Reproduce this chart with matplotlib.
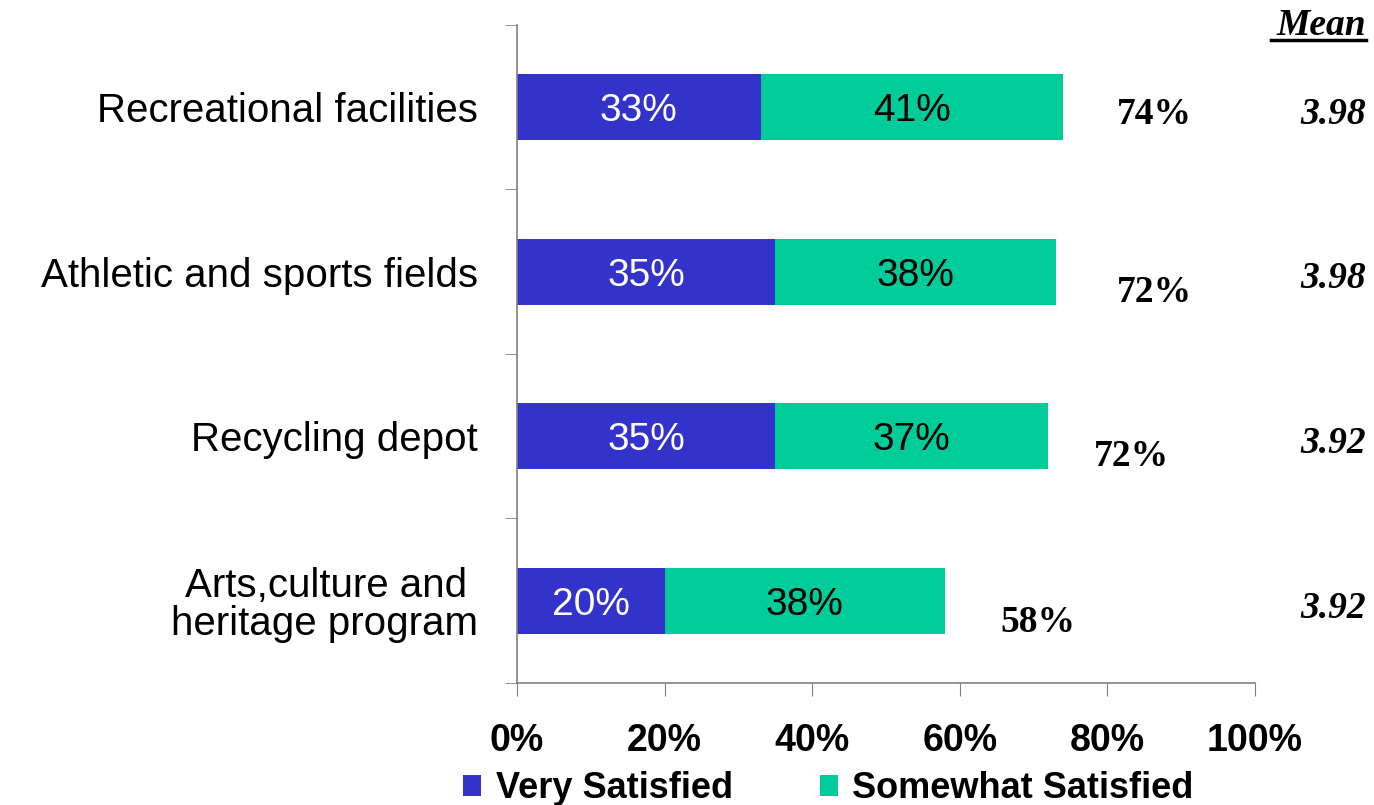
import numpy as np
import matplotlib
matplotlib.use("Agg")
import matplotlib.pyplot as plt
from matplotlib import font_manager

categories = ["Recreational facilities", "Athletic and sports fields",
              "Recycling depot", "Arts,culture and \nheritage program"]
very_satisfied = [33, 35, 35, 20]
somewhat_satisfied = [41, 38, 37, 38]
totals = ["74%", "72%", "72%", "58%"]
means = ["3.98", "3.98", "3.92", "3.92"]

blue = "#3333CC"
green = "#00CC99"

names = {f.name for f in font_manager.fontManager.ttflist}
narrow = "Liberation Sans Narrow" if "Liberation Sans Narrow" in names else "Liberation Sans"

fig = plt.figure(figsize=(13.74, 8.05), dpi=100)
ax = fig.add_axes([0.3763, 0.1516, 0.5371, 0.8174])

y = np.arange(len(categories))[::-1]
ax.barh(y, very_satisfied, height=0.4, color=blue, label="Very Satisfied")
ax.barh(y, somewhat_satisfied, left=very_satisfied, height=0.4, color=green,
        label="Somewhat Satisfied")

for yi, v, s in zip(y, very_satisfied, somewhat_satisfied):
    ax.text(v / 2, yi, f"{v}%", ha="center", va="center_baseline", color="white",
            fontsize=28, family="Liberation Sans")
    ax.text(v + s / 2, yi, f"{s}%", ha="center", va="center_baseline", color="black",
            fontsize=28, family="Liberation Sans")

# totals sit a little right of / below the bar end
tot_x = [86.4, 86.4, 83.3, 70.6]
tot_dy = [-0.02, -0.1, -0.1, -0.11]
for yi, t, tx, dy in zip(y, totals, tot_x, tot_dy):
    ax.text(tx, yi + dy, t, ha="center", va="center_baseline", fontsize=27,
            fontweight="bold", family="Liberation Serif")

for yi, m in zip(y, means):
    ax.text(115, yi - 0.02, m, ha="right", va="center_baseline", fontsize=27,
            fontweight="bold", fontstyle="italic", family="Liberation Serif",
            clip_on=False)
ax.text(115, 3.52, "Mean", ha="right", va="center_baseline", fontsize=27,
        fontweight="bold", fontstyle="italic", family="Liberation Serif",
        clip_on=False)
ax.plot([102.2, 115], [3.409, 3.409], color="black", lw=2.5, clip_on=False)

ax.set_xlim(0, 100)
ax.set_ylim(-0.5, 3.5)
ax.set_xticks(np.arange(0, 101, 20))
ax.set_xticklabels([f"{t}%" for t in range(0, 101, 20)], fontsize=27,
                   fontweight="bold", family=narrow)
ax.set_yticks(y)
ax.set_yticklabels(categories, fontsize=29, family="Liberation Sans",
                   linespacing=1.0)
ax.get_yticklabels()[0].set_multialignment("center")
ax.set_yticks(np.arange(-0.5, 3.6, 1), minor=True)
ax.tick_params(axis="y", which="major", length=0, pad=28)
ax.tick_params(axis="y", which="minor", length=9, color="#808080", direction="out")
ax.tick_params(axis="x", length=9, color="#808080", direction="out", pad=20)

for side in ["top", "right"]:
    ax.spines[side].set_visible(False)
for side in ["left", "bottom"]:
    ax.spines[side].set_color("#808080")
    ax.spines[side].set_linewidth(1.2)

fig.legend(loc="center", bbox_to_anchor=(0.603, 0.02), ncol=2, frameon=False,
           prop={"family": narrow, "weight": "bold", "size": 26},
           handlelength=0.5, handleheight=0.5, handletextpad=0.4,
           columnspacing=2.4, borderaxespad=0)

fig.savefig("out.png", dpi=100)
